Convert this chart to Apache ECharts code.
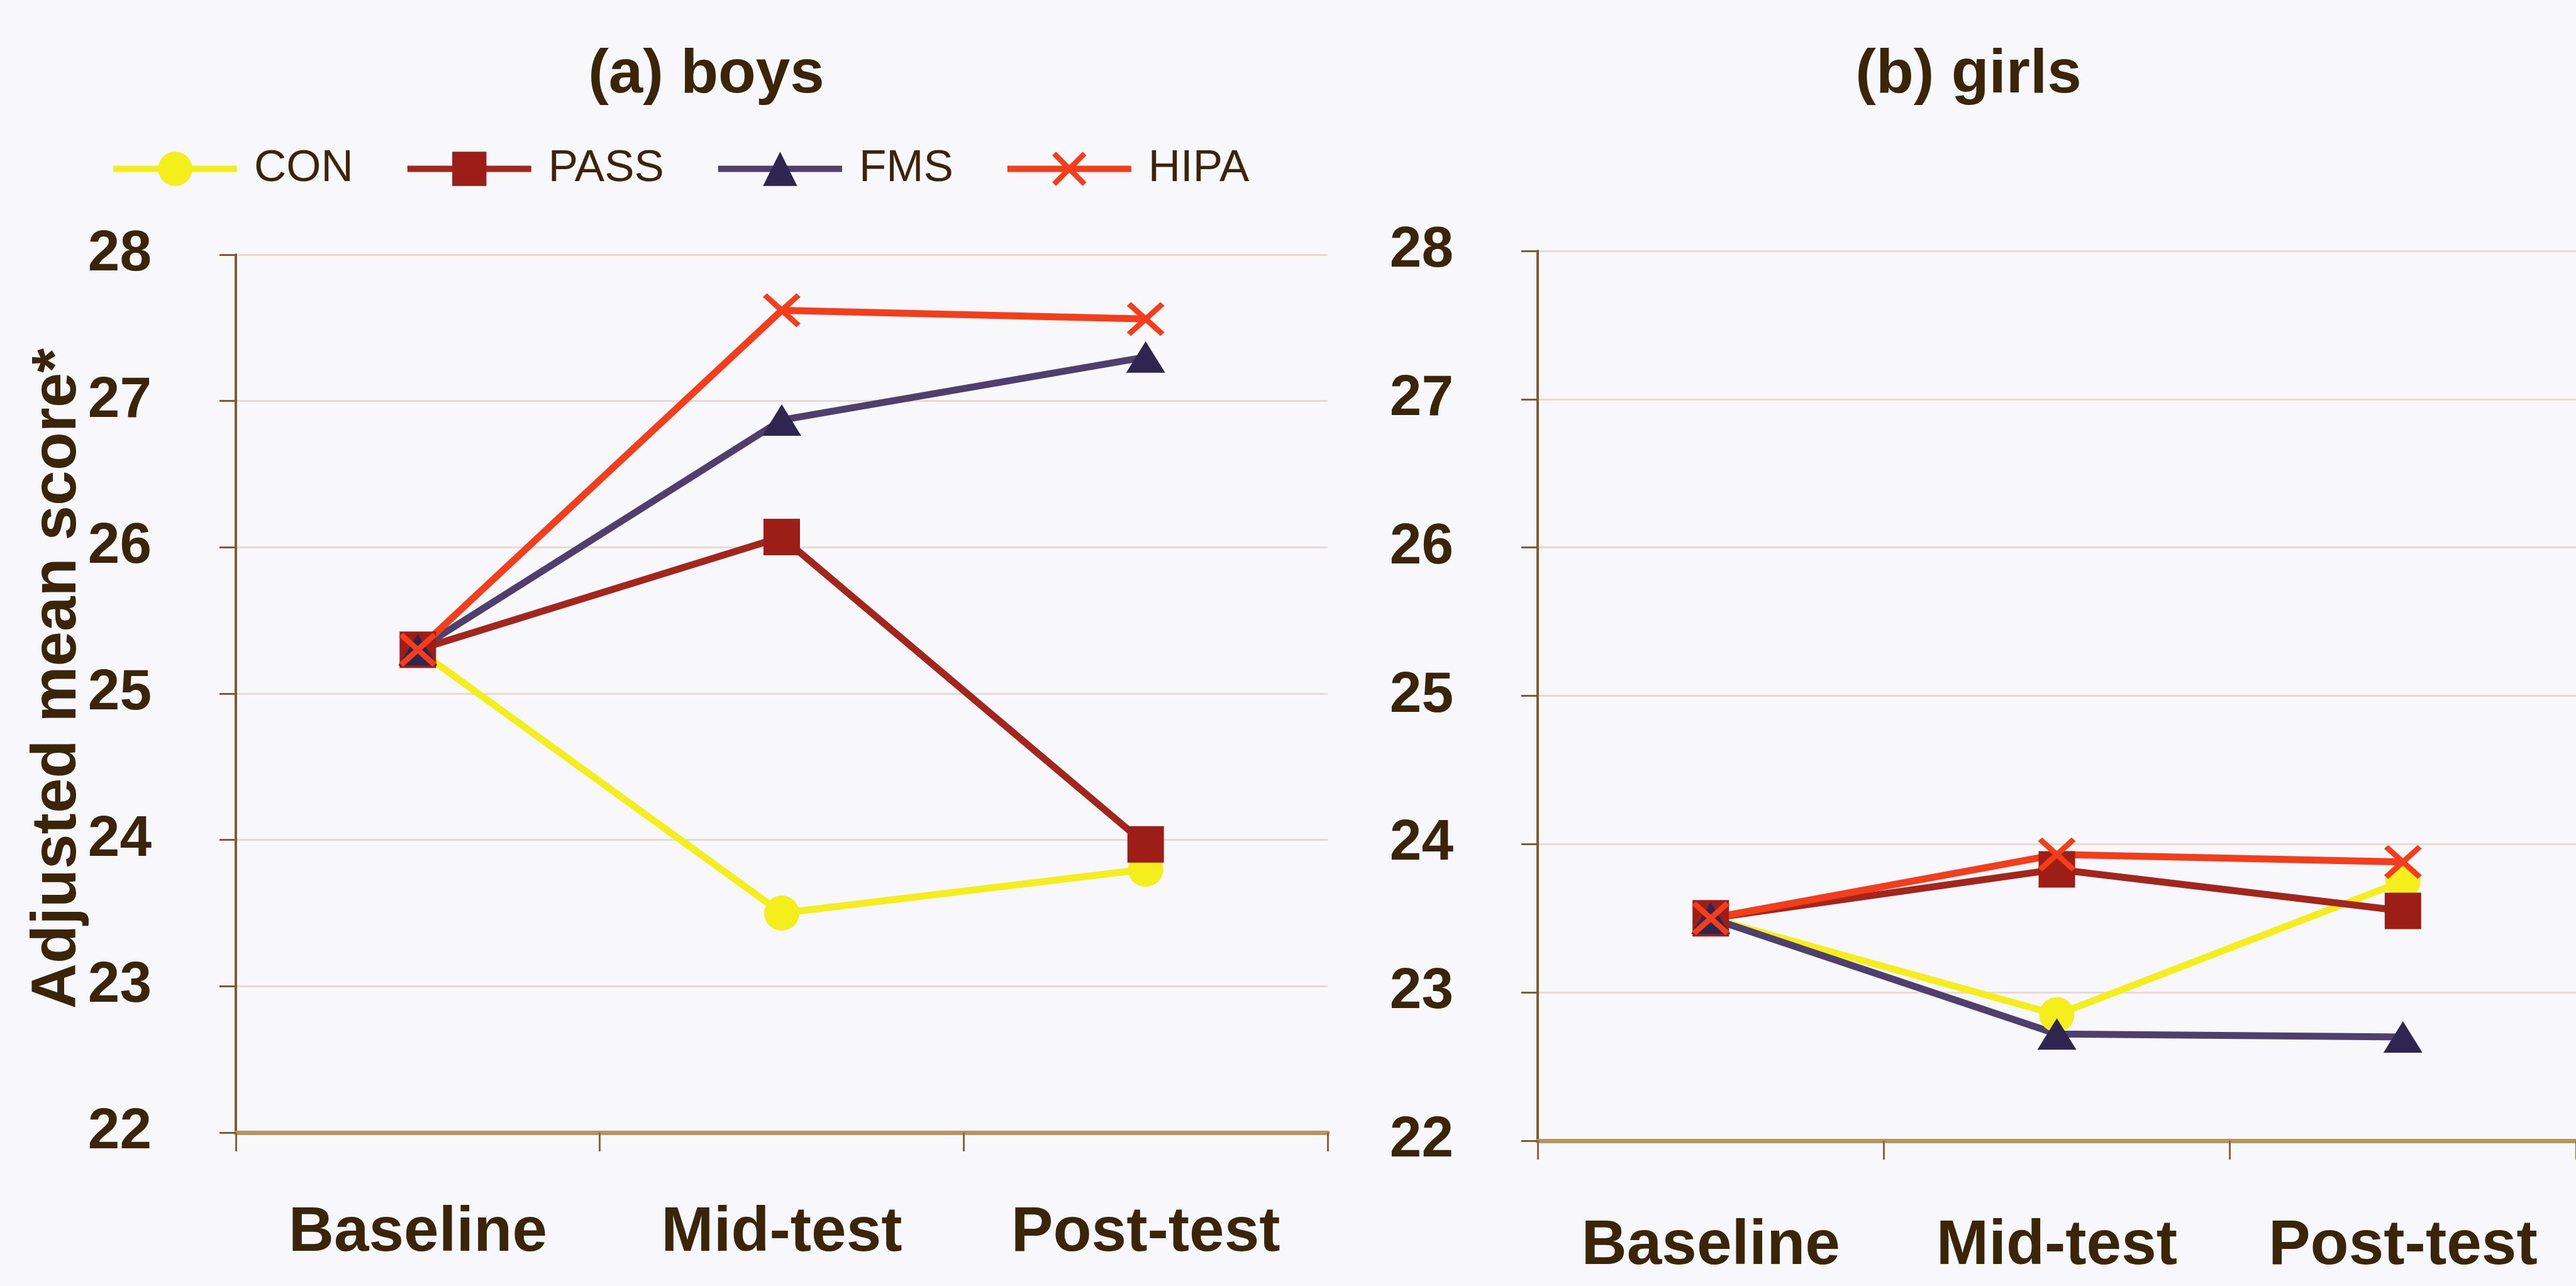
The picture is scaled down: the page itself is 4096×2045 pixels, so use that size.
<!DOCTYPE html>
<html>
<head>
<meta charset="utf-8">
<title>Adjusted mean score by group</title>
<script src="https://cdn.jsdelivr.net/npm/echarts@6/dist/echarts.min.js"></script>
<style>
  html, body { margin: 0; padding: 0; background: #f8f7fb; }
  #chart { width: 4096px; height: 2045px; }
</style>
</head>
<body>
<div id="chart"></div>
<script>
// Test occasions on the x axis
const stages = ['Baseline', 'Mid-test', 'Post-test'];
// Intervention groups
const groups = ['CON', 'PASS', 'FMS', 'HIPA'];

// (a) boys: adjusted mean scores per occasion
const boysCON  = [25.3, 23.5, 23.8];
const boysPASS = [25.3, 26.07, 23.97];
const boysFMS  = [25.3, 26.87, 27.3];
const boysHIPA = [25.3, 27.62, 27.56];

// (b) girls: adjusted mean scores per occasion
const girlsCON  = [23.5, 22.85, 23.75];
const girlsPASS = [23.5, 23.83, 23.55];
const girlsFMS  = [23.5, 22.72, 22.7];
const girlsHIPA = [23.5, 23.93, 23.88];

// y axis range and step
const yMin = 22, yMax = 28, yStep = 1;

const TEXT = '#3a2508';
const FONT = '"Liberation Sans", Arial, sans-serif';

// one style per group: line colour, marker shape, marker colour, marker size
const crossPath = 'path://M0,11L11,0L50,39L89,0L100,11L61,50L100,89L89,100L50,61L11,100L0,89L39,50Z';
const styles = {
  CON:  { line: '#f4ee1c', symbol: 'circle',   fill: '#f4ee1c', size: 56 },
  PASS: { line: '#a3251b', symbol: 'rect',     fill: '#9c1e16', size: 58 },
  FMS:  { line: '#4e3f6e', symbol: 'triangle', fill: '#2e2550', size: [62, 50] },
  HIPA: { line: '#f43d1a', symbol: crossPath,  fill: '#f43d1a', size: [60, 54] }
};

const boys  = { CON: boysCON,  PASS: boysPASS,  FMS: boysFMS,  HIPA: boysHIPA };
const girls = { CON: girlsCON, PASS: girlsPASS, FMS: girlsFMS, HIPA: girlsHIPA };

function makeSeries(values, axisIndex) {
  return groups.map(g => ({
    name: g,
    type: 'line',
    xAxisIndex: axisIndex,
    yAxisIndex: axisIndex,
    data: values[g],
    symbol: styles[g].symbol,
    symbolSize: styles[g].size,
    symbolKeepAspect: false,
    lineStyle: { color: styles[g].line, width: 11 },
    itemStyle: { color: styles[g].fill, borderWidth: 0 },
    animation: false,
    z: 3
  }));
}

function xAxisFor(gridIndex, margin) {
  return {
    type: 'category',
    gridIndex: gridIndex,
    data: stages,
    boundaryGap: true,
    axisLine: { show: true, lineStyle: { color: '#b8945e', width: 7 } },
    axisTick: { show: true, length: 30, lineStyle: { color: '#8a6634', width: 3 } },
    axisLabel: { interval: 0, color: TEXT, fontSize: 100, fontWeight: 'bold', fontFamily: FONT, margin: margin },
    splitLine: { show: false }
  };
}

function yAxisFor(gridIndex) {
  return {
    type: 'value',
    gridIndex: gridIndex,
    min: yMin,
    max: yMax,
    interval: yStep,
    axisLine: { show: true, lineStyle: { color: '#7d5c30', width: 4 } },
    axisTick: { show: true, length: 26, lineStyle: { color: '#7d5c30', width: 3 } },
    axisLabel: { color: TEXT, fontSize: 91, fontWeight: 'bold', fontFamily: FONT, margin: 134 },
    splitLine: { show: true, lineStyle: { color: '#e6dbd0', width: 3 } }
  };
}

const chart = echarts.init(document.getElementById('chart'), null, { renderer: 'canvas' });

chart.setOption({
  backgroundColor: '#f8f7fb',
  animation: false,
  title: [
    { text: '(a) boys', left: 1118, top: 66, textAlign: 'center',
      textStyle: { color: TEXT, fontSize: 98, fontWeight: 'bold', fontFamily: FONT } },
    { text: '(b) girls', left: 3125, top: 66, textAlign: 'center',
      textStyle: { color: TEXT, fontSize: 98, fontWeight: 'bold', fontFamily: FONT } }
  ],
  // shared y-axis title, set vertically to the left of panel (a)
  graphic: [{
    type: 'text',
    x: 92,
    y: 1079,
    rotation: Math.PI / 2,
    style: {
      text: 'Adjusted mean score*',
      fill: TEXT,
      font: 'bold 100px "Liberation Sans", Arial, sans-serif',
      align: 'center',
      verticalAlign: 'middle'
    }
  }],
  legend: {
    data: groups,
    left: 170,
    top: 228,
    itemWidth: 197,
    itemHeight: 68,
    itemGap: 81,
    lineStyle: { width: 10 },
    textStyle: { color: TEXT, fontSize: 71, fontFamily: FONT, padding: [0, 0, 0, 22] }
  },
  grid: [
    { left: 375, top: 405, width: 1736, height: 1396 },
    { left: 2445, top: 399, width: 1665, height: 1415 }
  ],
  xAxis: [xAxisFor(0, 110), xAxisFor(1, 118)],
  yAxis: [yAxisFor(0), yAxisFor(1)],
  series: makeSeries(boys, 0).concat(makeSeries(girls, 1))
});
</script>
</body>
</html>
